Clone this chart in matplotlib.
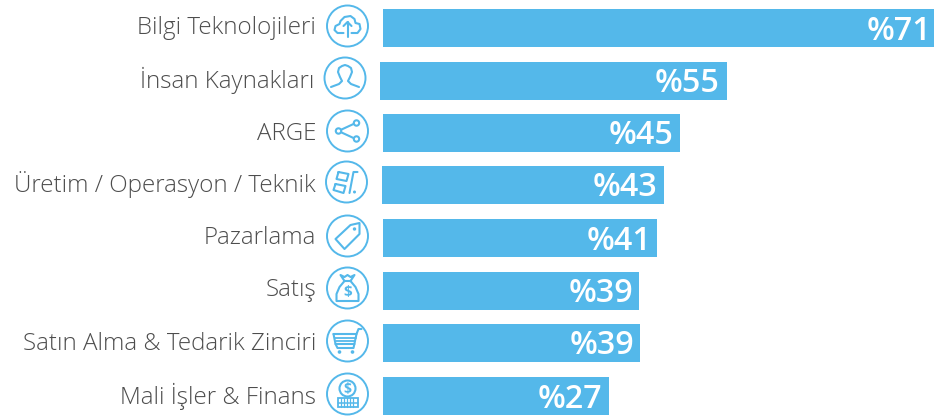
#!/usr/bin/python
# coding=utf-8
import numpy as np
import matplotlib
matplotlib.use('Agg')
import matplotlib.pyplot as plt
from matplotlib.patches import Circle, Polygon, Rectangle

BLUE = '#54b8ea'
TEXT = '#4d4d4d'

labels = ['Bilgi Teknolojileri', 'İnsan Kaynakları', 'ARGE', 'Üretim / Operasyon / Teknik',
          'Pazarlama', 'Satış', 'Satın Alma & Tedarik Zinciri', 'Mali İşler & Finans']
values = [71, 55, 45, 43, 41, 39, 39, 27]
bar_starts = [383, 380, 383, 382, 383, 383, 383, 383]
bar_ends = [934, 727, 680, 664, 657, 639, 640, 609]
bar_tops = [9, 62, 114, 166, 219, 272, 324, 377]
value_ends = [931, 720, 674, 657, 652, 633, 634, 602]
label_ends = [316, 314, 316, 316, 316, 316, 316, 316]
icon_x = [347.5, 345, 347.5, 346.5, 347.5, 347.5, 347.5, 347.5]
icon_y = [26, 78, 131, 182, 236, 288, 341, 394]
BAR_H = 38

plt.rcParams['font.family'] = ['Open Sans', 'DejaVu Sans']

fig = plt.figure(figsize=(9.34, 4.16), dpi=100)
ax = fig.add_axes([0, 0, 1, 1])
ax.set_xlim(0, 934)
ax.set_ylim(416, 0)
ax.axis('off')


def line(cx, cy, xs, ys, lw=1.5):
    ax.plot(cx + np.array(xs), cy + np.array(ys), color=BLUE, lw=lw,
            solid_capstyle='round', solid_joinstyle='round')


def cloud(cx, cy):
    line(cx, cy, [-4, -10, -13, -12, -8, -7, -3, 3, 7, 8, 12, 13, 10, 4],
         [7, 7, 4, 0, -2, -5, -9, -10, -7, -3, -2, 3, 7, 7])
    line(cx, cy, [0, 0], [-4, 11])
    line(cx, cy, [-4, 0, 4], [0, -4, 0])


def person(cx, cy):
    line(cx, cy, [-14, -6, -3, -5, -7, -6, -3, 0, 3, 6, 7, 5, 3, 6, 14],
         [9, 6, 3, -1, -6, -10, -12, -13, -12, -10, -6, -1, 3, 6, 9])


def share(cx, cy):
    line(cx, cy, [6, -7], [-7, -1])
    line(cx, cy, [-7, 6], [1, 7])
    for px, py in [(9, -8), (-9, 0), (9, 8)]:
        ax.add_patch(Circle((cx + px, cy + py), 2.7, fc='white', ec=BLUE, lw=1.5, zorder=3))


def production(cx, cy):
    line(cx, cy, [-8, 2, 0, -10, -8], [-10, -8, -1, -3, -10])
    line(cx, cy, [-11, -1, -3, -13, -11], [2, 4, 11, 8, 2])
    line(cx, cy, [11, 7, 3], [-10, -10, 11])
    ax.add_patch(Circle((cx + 8, cy + 10), 1.5, fc=BLUE, ec='none', zorder=3))


def tag(cx, cy):
    poly = [(-12, 3), (3, -11), (12, -13), (12, -2), (-3, 13)]
    ax.add_patch(Polygon([(cx + a, cy + b) for a, b in poly], closed=True,
                         fc='none', ec=BLUE, lw=1.5, joinstyle='round', zorder=3))
    ax.add_patch(Circle((cx + 7, cy - 7), 1.7, fc=BLUE, ec='none', zorder=3))


def money_bag(cx, cy):
    line(cx, cy, [-3, -8, -11, -11, 11, 11, 8, 3],
         [-7, -1, 6, 13, 13, 6, -1, -7])
    line(cx, cy, [-3, 3], [-7, -7])
    line(cx, cy, [-3, -7, -3, 0, 3, 7, 3], [-7, -13, -11, -13, -11, -13, -7])
    ax.text(cx, cy + 4, '$', color=BLUE, fontsize=11, fontweight='bold', ha='center', va='center', zorder=3)


def cart(cx, cy):
    line(cx, cy, [-14, 9, 11, 14], [-7, -7, -12, -12])
    line(cx, cy, [-14, -12, 7], [-7, 3, 3])
    line(cx, cy, [-13, 8], [-3, -3], lw=1.3)
    line(cx, cy, [-12, 7], [0, 0], lw=1.3)
    line(cx, cy, [-12, -10, 6, 9], [3, 7, 7, -7])
    ax.add_patch(Circle((cx - 8, cy + 11), 1.8, fc=BLUE, ec='none', zorder=3))
    ax.add_patch(Circle((cx + 5, cy + 11), 1.8, fc=BLUE, ec='none', zorder=3))


def coins(cx, cy):
    ax.add_patch(Circle((cx, cy - 5.5), 8, fc='none', ec=BLUE, lw=1.5, zorder=3))
    ax.text(cx, cy - 5.5, '$', color=BLUE, fontsize=10, fontweight='bold', ha='center', va='center', zorder=3)
    ax.add_patch(Rectangle((cx - 10, cy + 4), 20, 9, fc='none', ec=BLUE, lw=1.3, zorder=3))
    line(cx, cy, [-10, 10], [8.5, 8.5], lw=1.1)
    for dx in range(-7, 8, 3):
        line(cx, cy, [dx, dx], [4, 13], lw=0.9)


icon_funcs = [cloud, person, share, production, tag, money_bag, cart, coins]

ax.barh([t + BAR_H / 2 for t in bar_tops], np.array(bar_ends) - np.array(bar_starts),
        left=bar_starts, height=BAR_H, color=BLUE, linewidth=0)

for i, name in enumerate(labels):
    ax.text(label_ends[i], icon_y[i] + 2.5, name, color=TEXT, fontsize=17.35, fontweight=300,
            ha='right', va='center')
    ax.text(value_ends[i], bar_tops[i] + BAR_H / 2 + 3, '%' + str(values[i]), color='white',
            fontsize=23.2, fontweight=600, ha='right', va='center')
    ax.add_patch(Circle((icon_x[i], icon_y[i]), 20.5, fc='white', ec=BLUE, lw=1.4, zorder=2))
    icon_funcs[i](icon_x[i], icon_y[i])

fig.savefig('out.png', dpi=100)
